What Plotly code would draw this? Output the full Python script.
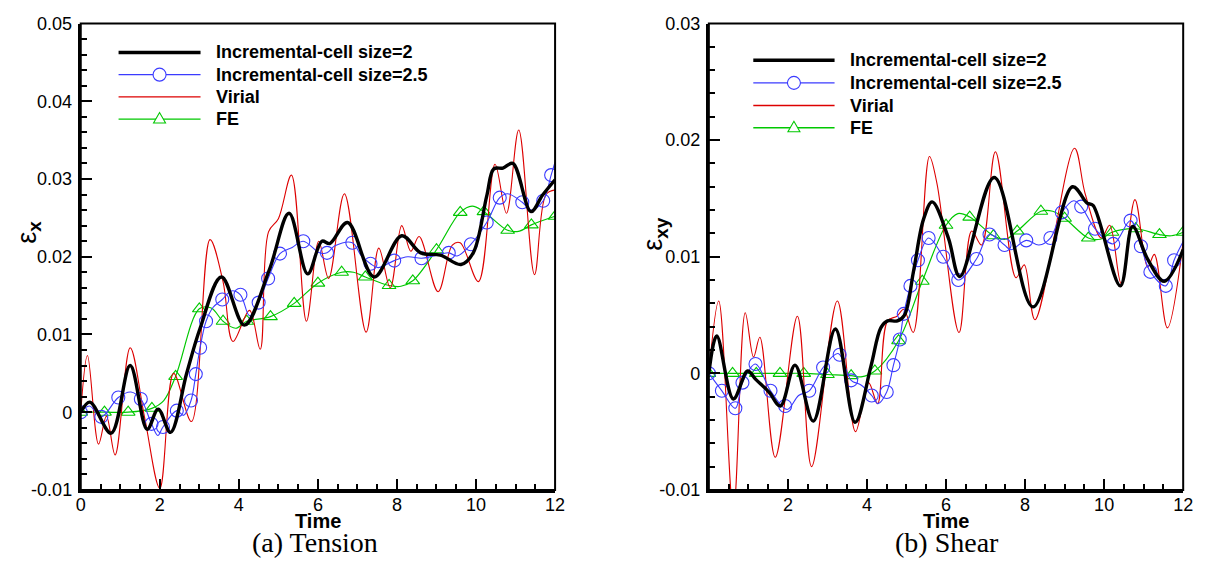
import plotly.graph_objects as go

W, H = 1208, 573

# ---------------- (a) Tension ----------------
ten_inc2_t = [0, 0.23, 0.77, 1.25, 1.68, 1.96, 2.27, 2.68, 3.02, 3.56, 4.14, 4.77, 5.27, 5.74, 6.1, 6.3,
              6.75, 7.42, 8.12, 8.6, 9.1, 9.62, 9.93, 10.27, 10.45, 10.68, 10.93, 11.39, 11.68, 12]
ten_inc2_e = [0, 0.0013, -0.0027, 0.006, -0.0022, 0.0004, -0.0026, 0.005, 0.0108, 0.0174, 0.0112, 0.0183,
              0.0256, 0.0178, 0.022, 0.0217, 0.0244, 0.0174, 0.0227, 0.0205, 0.0202, 0.019, 0.0205, 0.0278,
              0.0313, 0.0314, 0.032, 0.0258, 0.0279, 0.0299]

ten_vir_t = [0, 0.17, 0.45, 0.65, 0.87, 1.25, 1.62, 2.0, 2.35, 2.8, 3.27, 3.6, 3.85, 4.27, 4.54, 4.75, 5.0,
             5.33, 5.71, 6.02, 6.27, 6.67, 7.22, 7.54, 7.83, 8.12, 8.35, 8.56, 9.04, 9.4, 9.6, 10.06, 10.48,
             10.77, 11.08, 11.48, 11.77, 12]
ten_vir_e = [0, 0.0073, -0.0041, -0.0005, -0.0055, 0.0083, -0.0008, -0.0098, 0.005, -0.0012, 0.0222, 0.0168,
             0.0091, 0.0131, 0.0081, 0.0232, 0.0249, 0.0305, 0.0117, 0.022, 0.0172, 0.0281, 0.0103, 0.0211,
             0.016, 0.024, 0.0207, 0.0226, 0.0155, 0.0215, 0.0218, 0.0168, 0.0319, 0.0256, 0.0363, 0.0177,
             0.028, 0.0286]

ten_inc25_t = [0, 0.22, 0.52, 0.95, 1.27, 1.52, 1.79, 1.95, 2.08, 2.43, 2.6, 2.79, 2.91, 3.02, 3.17, 3.35,
               3.58, 3.81, 4.04, 4.27, 4.5, 4.74, 5.04, 5.35, 5.63, 6.04, 6.23, 6.43, 6.87, 7.1, 7.33, 7.52,
               7.93, 8.27, 8.62, 8.93, 9.31, 9.52, 9.87, 10.27, 10.6, 10.8, 11.17, 11.4, 11.7, 11.9, 12]
ten_inc25_e = [0, 0.0008, -0.0006, 0.0019, 0.0026, 0.0017, -0.0015, -0.003, -0.0019, 0.0002, -0.0004, 0.0015,
               0.0049, 0.0083, 0.0117, 0.0135, 0.0145, 0.0156, 0.0151, 0.0124, 0.0141, 0.0172, 0.0204, 0.0212,
               0.022, 0.0205, 0.0205, 0.0214, 0.0218, 0.0201, 0.0191, 0.0186, 0.0195, 0.02, 0.0198, 0.0201,
               0.0205, 0.0201, 0.0216, 0.0244, 0.0276, 0.0281, 0.027, 0.026, 0.0272, 0.0305, 0.0322]
ten_inc25_mk_t = [0, 0.52, 0.95, 1.52, 1.79, 2.08, 2.43, 2.79, 2.91, 3.02, 3.17, 3.58, 4.04, 4.5, 4.74, 5.04,
                  5.63, 6.23, 6.87, 7.33, 7.93, 8.62, 9.31, 9.87, 10.27, 10.6, 11.17, 11.7, 11.9]
ten_inc25_mk_e = [0, -0.0006, 0.0019, 0.0017, -0.0015, -0.0019, 0.0002, 0.0015, 0.0049, 0.0083, 0.0117,
                  0.0145, 0.0151, 0.0141, 0.0172, 0.0204, 0.022, 0.0205, 0.0218, 0.0191, 0.0195, 0.0198,
                  0.0205, 0.0216, 0.0244, 0.0276, 0.027, 0.0272, 0.0305]

ten_fe_t = [0, 0.6, 1.2, 1.8, 2.1, 2.4, 3.0, 3.3, 3.6, 3.92, 4.2, 4.8, 5.4, 6.0, 6.6, 6.9, 7.2, 7.8, 8.1,
            8.4, 9.0, 9.6, 9.9, 10.2, 10.8, 11.1, 11.4, 12]
ten_fe_e = [0, 0, 0, 0.0005, 0.0015, 0.0046, 0.0133, 0.0134, 0.0117, 0.0108, 0.0117, 0.0123, 0.014, 0.0166,
            0.018, 0.018, 0.0174, 0.0163, 0.0162, 0.0169, 0.0209, 0.0257, 0.0265, 0.0258, 0.0234, 0.0233,
            0.0241, 0.0252]
ten_fe_mk_t = [0, 0.6, 1.2, 1.8, 2.4, 3.0, 3.6, 4.2, 4.8, 5.4, 6.0, 6.6, 7.2, 7.8, 8.4, 9.0, 9.6, 10.2,
               10.8, 11.4, 12]
ten_fe_mk_e = [0, 0, 0, 0.0005, 0.0046, 0.0133, 0.0117, 0.0117, 0.0123, 0.014, 0.0166, 0.018, 0.0174,
               0.0163, 0.0169, 0.0209, 0.0257, 0.0258, 0.0234, 0.0241, 0.0252]

# ---------------- (b) Shear ----------------
sh_inc2_t = [0, 0.2, 0.62, 0.98, 1.18, 1.52, 1.81, 2.18, 2.64, 3.2, 3.7, 4.1, 4.35, 4.52, 4.77, 4.95, 5.18,
             5.43, 5.65, 6.06, 6.35, 7.22, 8.2, 9.2, 9.57, 9.72, 10.41, 10.72, 11.1, 11.52, 12]
sh_inc2_e = [0, 0.0032, -0.0022, 0.0002, -0.0005, -0.0016, -0.0028, 0.0007, -0.0041, 0.0038, -0.0042,
             0.0006, 0.0039, 0.0045, 0.0045, 0.005, 0.0088, 0.0132, 0.0147, 0.0116, 0.0083, 0.0168, 0.0057,
             0.016, 0.0146, 0.0144, 0.0075, 0.0126, 0.0098, 0.0079, 0.0106]

sh_vir_t = [0, 0.25, 0.62, 0.92, 1.13, 1.29, 1.68, 2.24, 2.6, 3.25, 3.71, 4.04, 4.27, 4.52, 4.76, 4.93,
            5.17, 5.58, 5.77, 6.33, 6.65, 6.9, 7.25, 7.77, 7.98, 8.25, 9.25, 9.52, 9.93, 10.14, 10.43, 10.78,
            11.1, 11.27, 11.6, 12]
sh_vir_e = [0, 0.0062, -0.0118, 0.0052, 0.0014, 0.0031, -0.0072, 0.0049, -0.008, 0.0062, -0.005, -0.0008,
            -0.0026, 0.0045, 0.0049, 0.0055, 0.0035, 0.0186, 0.0163, 0.0035, 0.0122, 0.011, 0.019, 0.0082,
            0.0093, 0.0046, 0.0193, 0.0154, 0.0116, 0.0127, 0.0077, 0.0149, 0.0091, 0.0102, 0.0039, 0.0113]

sh_inc25_t = [0, 0.33, 0.67, 0.85, 1.18, 1.56, 1.98, 2.27, 2.54, 2.89, 3.27, 3.6, 3.85, 4.12, 4.28, 4.5,
              4.67, 4.83, 4.93, 5.1, 5.29, 5.56, 5.93, 6.31, 6.77, 7.1, 7.48, 7.64, 8.03, 8.35, 8.64, 8.93,
              9.23, 9.42, 9.77, 10.23, 10.67, 10.93, 11.17, 11.56, 11.77, 12]
sh_inc25_e = [0, -0.0015, -0.003, -0.0008, 0.0008, -0.0015, -0.0031, -0.0019, -0.0015, 0.0005, 0.0017,
              -0.0006, -0.001, -0.0019, -0.0026, -0.0016, 0.0007, 0.0029, 0.0051, 0.0075, 0.0097, 0.0116,
              0.01, 0.008, 0.0098, 0.0119, 0.011, 0.0106, 0.0114, 0.011, 0.0116, 0.0138, 0.0148, 0.0143,
              0.0124, 0.0111, 0.0131, 0.0109, 0.0087, 0.0075, 0.0097, 0.0113]
sh_inc25_mk_t = [0, 0.33, 0.67, 0.85, 1.18, 1.56, 1.93, 2.54, 2.89, 3.31, 3.6, 4.12, 4.5, 4.67, 4.83, 4.93,
                 5.1, 5.29, 5.56, 5.93, 6.31, 6.77, 7.1, 7.48, 8.03, 8.64, 8.93, 9.42, 9.77, 10.23, 10.67,
                 10.93, 11.17, 11.56, 11.77]
sh_inc25_mk_e = [0, -0.0015, -0.003, -0.0008, 0.0008, -0.0015, -0.0028, -0.0015, 0.0005, 0.0016, -0.0006,
                 -0.0019, -0.0016, 0.0007, 0.0029, 0.0051, 0.0075, 0.0097, 0.0116, 0.01, 0.008, 0.0098,
                 0.0119, 0.011, 0.0114, 0.0116, 0.0138, 0.0143, 0.0124, 0.0111, 0.0131, 0.0109, 0.0087,
                 0.0075, 0.0097]

sh_fe_t = [0, 0.6, 1.2, 1.8, 2.4, 3.0, 3.6, 3.85, 4.2, 4.8, 5.4, 6.0, 6.3, 6.6, 7.2, 7.5, 7.8, 8.4, 8.7,
           9.0, 9.6, 9.9, 10.2, 10.8, 11.4, 11.7, 12]
sh_fe_e = [0, 0, 0, 0, 0, -0.0001, -0.0002, -0.0003, 0.0002, 0.0028, 0.0079, 0.0127, 0.0137, 0.0134, 0.0118,
           0.0115, 0.0122, 0.0139, 0.0139, 0.0133, 0.0116, 0.0115, 0.0121, 0.0124, 0.0119, 0.0118, 0.0121]
sh_fe_mk_t = [0, 0.6, 1.2, 1.8, 2.4, 3.0, 3.6, 4.2, 4.8, 5.4, 6.0, 6.6, 7.2, 7.8, 8.4, 9.0, 9.6, 10.2, 10.8,
              11.4, 12]
sh_fe_mk_e = [0, 0, 0, 0, 0, -0.0001, -0.0002, 0.0002, 0.0028, 0.0079, 0.0127, 0.0134, 0.0118, 0.0122,
              0.0139, 0.0133, 0.0116, 0.0121, 0.0124, 0.0119, 0.0121]

# tick labels
ten_xticks = [0, 2, 4, 6, 8, 10, 12]
ten_yticks = [-0.01, 0, 0.01, 0.02, 0.03, 0.04, 0.05]
ten_ylabels = ["-0.01", "0", "0.01", "0.02", "0.03", "0.04", "0.05"]
sh_xticks = [2, 4, 6, 8, 10, 12]
sh_yticks = [-0.01, 0, 0.01, 0.02, 0.03]
sh_ylabels = ["-0.01", "0", "0.01", "0.02", "0.03"]

series_names = ["Incremental-cell size=2", "Incremental-cell size=2.5", "Virial", "FE"]

BLACK = "#000000"
BLUE = "#3b3bff"
RED = "#dd0000"
GREEN = "#00c800"
SANS = "Liberation Sans, Arial, sans-serif"
SERIF = "Liberation Serif, Times New Roman, serif"

fig = go.Figure()


def line(x, y, color, width, xa, ya):
    fig.add_trace(go.Scatter(x=x, y=y, mode="lines", xaxis=xa, yaxis=ya, showlegend=False,
                             line=dict(color=color, width=width, shape="spline", smoothing=1.0),
                             hoverinfo="skip"))


def marks(x, y, color, symbol, size, xa, ya):
    fig.add_trace(go.Scatter(x=x, y=y, mode="markers", xaxis=xa, yaxis=ya, showlegend=False,
                             marker=dict(symbol=symbol, size=size, color=color,
                                         line=dict(color=color, width=1.1)),
                             cliponaxis=True, hoverinfo="skip"))


# panel a
line(ten_fe_t, ten_fe_e, GREEN, 1.2, "x", "y")
marks(ten_fe_mk_t, ten_fe_mk_e, GREEN, "triangle-up-open", 12, "x", "y")
line(ten_vir_t, ten_vir_e, RED, 1.1, "x", "y")
line(ten_inc25_t, ten_inc25_e, BLUE, 1.1, "x", "y")
marks(ten_inc25_mk_t, ten_inc25_mk_e, BLUE, "circle-open", 13, "x", "y")
line(ten_inc2_t, ten_inc2_e, BLACK, 3.4, "x", "y")

# panel b
line(sh_fe_t, sh_fe_e, GREEN, 1.2, "x2", "y2")
marks(sh_fe_mk_t, sh_fe_mk_e, GREEN, "triangle-up-open", 12, "x2", "y2")
line(sh_vir_t, sh_vir_e, RED, 1.1, "x2", "y2")
line(sh_inc25_t, sh_inc25_e, BLUE, 1.1, "x2", "y2")
marks(sh_inc25_mk_t, sh_inc25_mk_e, BLUE, "circle-open", 13, "x2", "y2")
line(sh_inc2_t, sh_inc2_e, BLACK, 3.4, "x2", "y2")


def px(x):
    return x / W


def py(y):
    return 1 - y / H


# plot areas in pixels
A_L, A_R = 76.7, 557.0
B_L, B_R = 712.7, 1193.0
TOP, BOT = 14.0, 497.3

common_x = dict(showgrid=False, zeroline=False, showline=True, linecolor="black", linewidth=3,
                ticks="inside", ticklen=11, tickwidth=2, tickcolor="black",
                tickfont=dict(family=SANS, size=18, color="black"),
                minor=dict(ticks="inside", ticklen=6, tickwidth=1.5, tickcolor="black",
                           tickmode="linear", tick0=0, dtick=0.5),
                range=[0, 12], tickmode="array", fixedrange=True, ticklabelstandoff=-4)
common_y = dict(showgrid=False, zeroline=False, showline=True, linecolor="black", linewidth=3,
                ticks="inside", ticklen=11, tickwidth=2, tickcolor="black",
                tickfont=dict(family=SANS, size=18, color="black"),
                minor=dict(ticks="inside", ticklen=6, tickwidth=1.5, tickcolor="black",
                           tickmode="linear", tick0=0, dtick=0.002),
                tickmode="array", fixedrange=True, ticklabelstandoff=2)

fig.update_layout(
    width=W, height=H, autosize=False,
    margin=dict(l=0, r=0, t=0, b=0),
    paper_bgcolor="white", plot_bgcolor="white",
    xaxis=dict(common_x, domain=[px(A_L), px(A_R)], anchor="y", tickvals=ten_xticks),
    yaxis=dict(common_y, domain=[py(BOT), py(TOP)], anchor="x", range=[-0.01, 0.05],
               tickvals=ten_yticks, ticktext=ten_ylabels),
    xaxis2=dict(common_x, domain=[px(B_L), px(B_R)], anchor="y2", tickvals=sh_xticks),
    yaxis2=dict(common_y, domain=[py(BOT), py(TOP)], anchor="x2", range=[-0.01, 0.03],
                tickvals=sh_yticks, ticktext=sh_ylabels),
    showlegend=False,
)

shapes = []
annotations = []
# frames (top/right thinner)
for xr, yr in (("x domain", "y domain"), ("x2 domain", "y2 domain")):
    shapes.append(dict(type="rect", xref=xr, yref=yr, x0=0, x1=1, y0=0, y1=1,
                       line=dict(color="black", width=2), layer="above"))

# legends
legend_styles = [(BLACK, 3.4, None), (BLUE, 1.2, "circle"), (RED, 1.4, None), (GREEN, 1.3, "triangle")]
for (lx0, lx1, tx, rows) in ((115, 198, 212, [44, 67, 90, 113]),
                             (757.7, 840, 854, [52, 75.5, 99, 122])):
    for name, (col, wdt, mk), ry in zip(series_names, legend_styles, rows):
        shapes.append(dict(type="line", xref="paper", yref="paper", x0=px(lx0), x1=px(lx1),
                           y0=py(ry), y1=py(ry), line=dict(color=col, width=wdt), layer="above"))
        cx = px((lx0 + lx1) / 2)
        if mk == "circle":
            shapes.append(dict(type="circle", xref="paper", yref="paper", xsizemode="pixel",
                               ysizemode="pixel", xanchor=cx, yanchor=py(ry), x0=-6.5, x1=6.5,
                               y0=-6.5, y1=6.5, line=dict(color=col, width=1.1), fillcolor="white",
                               layer="above"))
        elif mk == "triangle":
            shapes.append(dict(type="path", xref="paper", yref="paper", xsizemode="pixel",
                               ysizemode="pixel", xanchor=cx, yanchor=py(ry),
                               path="M -6 -4 L 6 -4 L 0 6.5 Z",
                               line=dict(color=col, width=1.1), fillcolor="white", layer="above"))
        annotations.append(dict(text="<b>%s</b>" % name, xref="paper", yref="paper", x=px(tx),
                                y=py(ry), xanchor="left", yanchor="middle", showarrow=False,
                                font=dict(family=SANS, size=18, color="black")))

# axis titles
for cx in ((A_L + A_R) / 2, (B_L + B_R) / 2):
    annotations.append(dict(text="<b>Time</b>", xref="paper", yref="paper", x=px(cx), y=py(529),
                            xanchor="center", yanchor="middle", showarrow=False,
                            font=dict(family=SANS, size=20, color="black")))
annotations.append(dict(text="ε<sub><b>x</b></sub>", xref="paper", yref="paper", x=px(24), y=py(230),
                        xanchor="center", yanchor="middle", showarrow=False, textangle=-90,
                        font=dict(family=SANS, size=27, color="black")))
annotations.append(dict(text="ε<sub><b>xy</b></sub>", xref="paper", yref="paper", x=px(658), y=py(232),
                        xanchor="center", yanchor="middle", showarrow=False, textangle=-90,
                        font=dict(family=SANS, size=27, color="black")))
# captions
annotations.append(dict(text="(a) Tension", xref="paper", yref="paper", x=px(314), y=py(552),
                        xanchor="center", yanchor="middle", showarrow=False,
                        font=dict(family=SERIF, size=28, color="black")))
annotations.append(dict(text="(b) Shear", xref="paper", yref="paper", x=px(954), y=py(552),
                        xanchor="center", yanchor="middle", showarrow=False,
                        font=dict(family=SERIF, size=28, color="black")))

fig.update_layout(shapes=shapes, annotations=annotations)
fig.write_html("out.html")
